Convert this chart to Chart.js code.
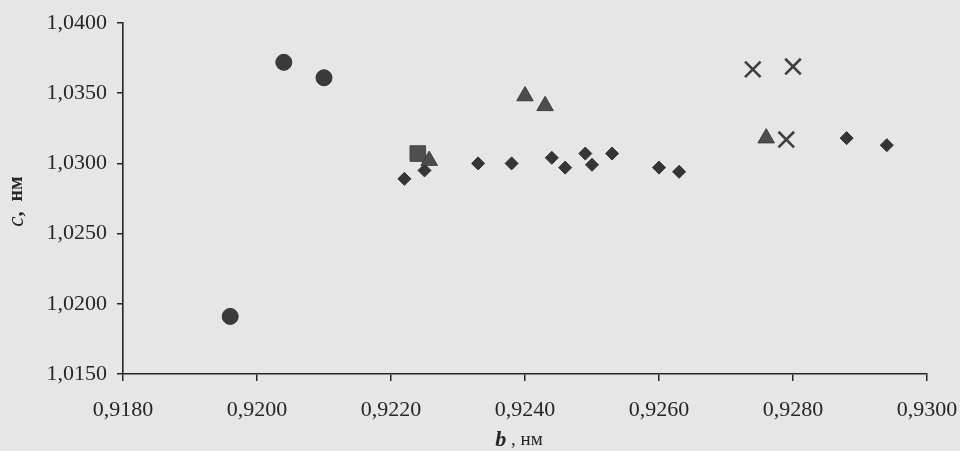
<!DOCTYPE html>
<html>
<head>
<meta charset="utf-8">
<script src="https://cdn.jsdelivr.net/npm/chart.js@4/dist/chart.umd.min.js"></script>
<style>
    body{margin:0;background:#e6e6e6;}
    canvas{display:block;}
</style>
</head>
<body>
<canvas id="bc_chart" width="960" height="451"></canvas>
<script>
// tick labels
const x_ticks=[0.918,0.920,0.922,0.924,0.926,0.928,0.930];
const y_ticks=[1.015,1.020,1.025,1.030,1.035,1.040];

// b, nm / c, nm for every group of samples
const circle_b=[0.9196,0.9204,0.9210];
const circle_c=[1.0191,1.0372,1.0361];

const square_b=[0.9224];
const square_c=[1.0307];

const triangle_b=[0.92257,0.9240,0.9243,0.9276];
const triangle_c=[1.0302,1.0348,1.0341,1.0318];

const cross_b=[0.9274,0.9280,0.9279];
const cross_c=[1.0367,1.0369,1.0317];

const diamond_b=[0.9222,0.9225,0.9233,0.9238,0.9244,0.9246,0.9249,0.9250,0.9253,0.9260,0.9263,0.9288,0.9294];
const diamond_c=[1.0289,1.0295,1.0300,1.0300,1.0304,1.0297,1.0307,1.0299,1.0307,1.0297,1.0294,1.0318,1.0313];

const ink='#262626';
const serif='"Liberation Serif", "DejaVu Serif", serif';

//***************************************************************************** */
function ToPoints(bs,cs){
    let pts=[];
    for(let i=0;i<bs.length;i++){
        pts.push({x:bs[i],y:cs[i]});
    }
    return pts;
}
//***************************************************************************** */
function CommaNum(v){
    return Number(v).toFixed(4).replace('.',',');
}
//***************************************************************************** */
function DrawMixed(ctx,parts,x,y){//parts drawn in a row, centered on x
    let total=0;
    for(let k=0;k<parts.length;k++){
        ctx.font=parts[k].font;
        total+=ctx.measureText(parts[k].text).width;
    }
    let cx=x-total/2;
    ctx.textBaseline='middle';
    ctx.textAlign='left';
    ctx.fillStyle=ink;
    for(let k=0;k<parts.length;k++){
        ctx.font=parts[k].font;
        ctx.fillText(parts[k].text,cx,y);
        cx+=ctx.measureText(parts[k].text).width;
    }
}
//***************************************************************************** */
const axis_titles={
    id:'axis_titles',
    afterDraw(chart){
        const ctx=chart.ctx;
        const area=chart.chartArea;
        ctx.save();
        DrawMixed(ctx,[
            {text:'b',font:'italic bold 22px '+serif},
            {text:' , нм',font:'19px '+serif},
        ],(area.left+area.right)/2-6,440);
        ctx.translate(17,(area.top+area.bottom)/2+3);
        ctx.rotate(-Math.PI/2);
        DrawMixed(ctx,[
            {text:'c',font:'italic 23px '+serif},
            {text:',  нм',font:'bold 20px '+serif},
        ],0,0);
        ctx.restore();
    }
};
//***************************************************************************** */
function MakeSet(label,bs,cs,style,radius,fill,stroke,bw){
    return {
        label: label,
        data: ToPoints(bs,cs),
        pointStyle: style,
        pointRadius: radius,
        pointHoverRadius: radius,
        backgroundColor: fill,
        borderColor: stroke,
        borderWidth: bw,
        showLine: false,
    };
}
//***************************************************************************** */
function InitChart(){
    new Chart("bc_chart",{
        type:"scatter",
        data:{
            datasets:[
                MakeSet('triangle',triangle_b,triangle_c,'triangle',9.5,'#4d4d4d','#3a3a3a',1),
                MakeSet('square',square_b,square_c,'rect',11,'#505050','#444',1),
                MakeSet('circle',circle_b,circle_c,'circle',8,'#3a3a3a','#333',1),
                MakeSet('cross',cross_b,cross_c,'crossRot',11,'#444','#3f3f3f',2.6),
                MakeSet('diamond',diamond_b,diamond_c,'rectRot',6.5,'#353535','#303030',1),
            ],
        },
        options:{
            responsive:false,
            animation:false,
            layout:{padding:{top:23,right:33,bottom:0,left:0}},
            scales:{
                x:{
                    type:'linear',
                    min:0.918,max:0.930,
                    afterBuildTicks:(s)=>{s.ticks=x_ticks.map(v=>({value:v}));},
                    afterFit:(s)=>{s.height=77;s.paddingLeft=0;s.paddingRight=0;},
                    grid:{drawOnChartArea:false,tickLength:7,color:ink,lineWidth:1.5},
                    border:{color:ink,width:1.6},
                    ticks:{padding:16,color:ink,maxRotation:0,font:{family:serif,size:22},callback:CommaNum},
                },
                y:{
                    type:'linear',
                    min:1.015,max:1.040,
                    afterBuildTicks:(s)=>{s.ticks=y_ticks.map(v=>({value:v}));},
                    afterFit:(s)=>{s.width=123;s.paddingTop=0;s.paddingBottom=0;},
                    grid:{drawOnChartArea:false,tickLength:6,color:ink,lineWidth:1.5},
                    border:{color:ink,width:1.6},
                    ticks:{padding:10,color:ink,font:{family:serif,size:22},callback:CommaNum},
                },
            },
            plugins:{legend:{display:false},tooltip:{enabled:false}},
        },
        plugins:[axis_titles],
    });
}
InitChart();
</script>
</body>
</html>
